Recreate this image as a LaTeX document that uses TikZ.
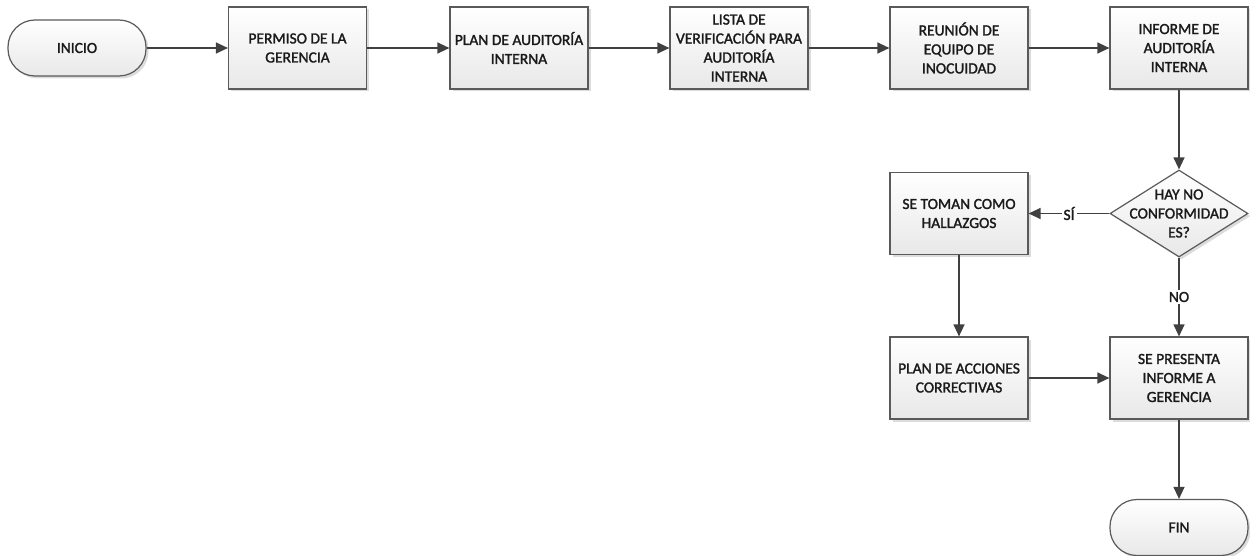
\documentclass[tikz,border=0pt]{standalone}
\usepackage{fontspec}
\setmainfont{Carlito}[FakeBold=1.6]
\usetikzlibrary{shapes.geometric,arrows.meta,shadows}

\definecolor{edge}{HTML}{5A5A5A}
\definecolor{wire}{HTML}{404040}
\definecolor{ink}{HTML}{1A1A1A}

\tikzset{
  txt/.style={text=ink, align=center, font=\fontsize{15.5}{19}\selectfont},
  base/.style={txt, draw=edge, line width=1.2pt,
    top color=white, bottom color=black!9,
    drop shadow={shadow xshift=2.5pt, shadow yshift=-2.5pt, fill=black!45, opacity=0.3},
    inner sep=2pt},
  procbox/.style={base, rectangle, minimum width=138pt, minimum height=82pt},
  terminal/.style={base, rectangle, rounded corners=27pt, minimum width=138pt, minimum height=56pt},
  decision/.style={base, diamond, minimum width=138pt, minimum height=87pt, inner sep=0pt},
  flow/.style={draw=wire, line width=1.3pt, -{Triangle[length=12pt,width=11pt]}},
  tag/.style={txt, fill=white, inner sep=2pt}
}

\begin{document}
\begin{tikzpicture}[x=1pt, y=-1pt]
\useasboundingbox (0,0) rectangle (1250,556);

% top row
\node[terminal] (inicio) at (77,48) {INICIO};
\node[procbox] (permiso) at (297.5,48) {PERMISO DE LA\\GERENCIA};
\node[procbox] (plan) at (519,48) {PLAN DE AUDITORÍA\\INTERNA};
\node[procbox] (lista) at (739,48) {LISTA DE\\VERIFICACIÓN PARA\\AUDITORÍA\\INTERNA};
\node[procbox] (reunion) at (959,48) {REUNIÓN DE\\EQUIPO DE\\INOCUIDAD};
\node[procbox] (informe) at (1179,48) {INFORME DE\\AUDITORÍA\\INTERNA};

% decision and branches
\node[decision] (dec) at (1179,213.5) {};
\node[txt] (dectext) at (dec) {HAY NO\\CONFORMIDAD\\ES?};
\node[procbox] (hallazgos) at (959,213.5) {SE TOMAN COMO\\HALLAZGOS};
\node[procbox] (acciones) at (959,378) {PLAN DE ACCIONES\\CORRECTIVAS};
\node[procbox] (presenta) at (1179,378) {SE PRESENTA\\INFORME A\\GERENCIA};
\node[terminal] (fin) at (1179,527.5) {FIN};

% connectors
\draw[flow] (inicio) -- (permiso);
\draw[flow] (permiso) -- (plan);
\draw[flow] (plan) -- (lista);
\draw[flow] (lista) -- (reunion);
\draw[flow] (reunion) -- (informe);
\draw[flow] (informe) -- (dec);
\draw[flow] (dec.west) -- node[tag] {SÍ} (hallazgos);
\draw[flow] (dec.south) -- node[tag] {NO} (presenta);
\draw[flow] (hallazgos) -- (acciones);
\draw[flow] (acciones) -- (presenta);
\draw[flow] (presenta) -- (fin);
\end{tikzpicture}
\end{document}
